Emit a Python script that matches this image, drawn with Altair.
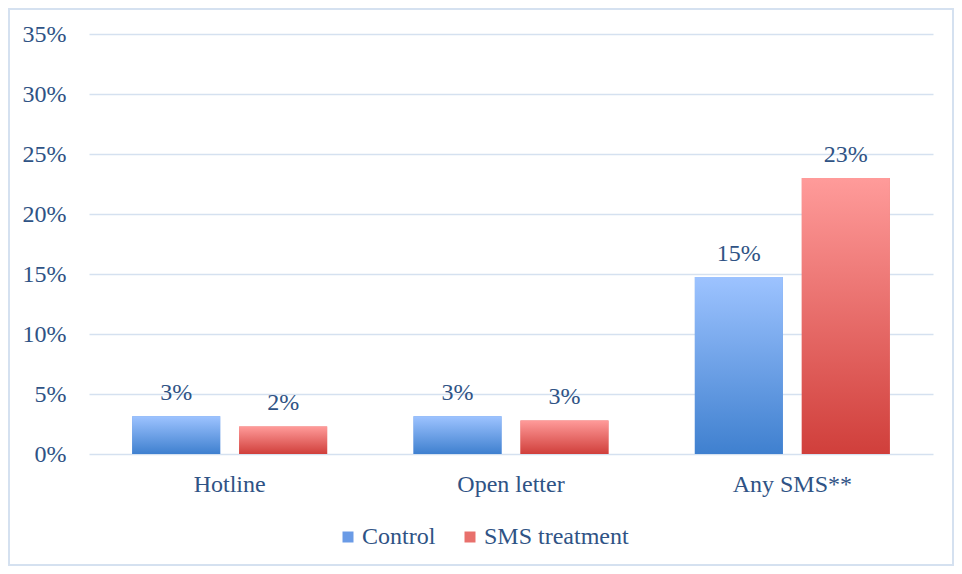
import altair as alt
import pandas as pd

categories = ["Hotline", "Open letter", "Any SMS**"]
series = ["Control", "SMS treatment"]
control = [0.0315, 0.0315, 0.1475]
sms = [0.0230, 0.0280, 0.2300]
y_ticks = [0, 0.05, 0.10, 0.15, 0.20, 0.25, 0.30, 0.35]

rows = []
for c, v in zip(categories, control):
    rows.append({"category": c, "series": "Control", "value": v})
for c, v in zip(categories, sms):
    rows.append({"category": c, "series": "SMS treatment", "value": v})
df = pd.DataFrame(rows)

FONT = "Liberation Serif"
FS = 24
TXT = "#2f5385"
GRID = "#d5e1f0"

blue_grad = alt.Gradient(
    gradient="linear", x1=0, x2=0, y1=0, y2=1,
    stops=[alt.GradientStop(color="#9dc3ff", offset=0),
           alt.GradientStop(color="#3f80cf", offset=1)],
)
red_grad = alt.Gradient(
    gradient="linear", x1=0, x2=0, y1=0, y2=1,
    stops=[alt.GradientStop(color="#ff9b9a", offset=0),
           alt.GradientStop(color="#d03f3b", offset=1)],
)

x_enc = alt.X(
    "category:N", sort=categories, title=None,
    scale=alt.Scale(paddingInner=0.307, paddingOuter=0.1535),
    axis=alt.Axis(labelAngle=0, ticks=False, domain=False, labelPadding=18,
                  labelFont=FONT, labelFontSize=FS, labelColor=TXT, grid=False),
)
xo_enc = alt.XOffset("series:N", sort=series,
                     scale=alt.Scale(paddingInner=0.177, paddingOuter=0))
y_enc = alt.Y(
    "value:Q", title=None,
    scale=alt.Scale(domain=[0, 0.35], nice=False),
    axis=alt.Axis(values=y_ticks, format=".0%", ticks=False, domain=False,
                  labelPadding=23, labelFont=FONT, labelFontSize=FS,
                  labelColor=TXT, grid=True, gridColor=GRID, gridWidth=1.5),
)

base = alt.Chart(df)

legend_layer = base.mark_bar().encode(
    x=x_enc, xOffset=xo_enc, y=y_enc,
    color=alt.Color(
        "series:N", sort=series, title=None,
        scale=alt.Scale(domain=series, range=["#6a9be6", "#e8706c"]),
        legend=alt.Legend(orient="none", legendX=247, legendY=491,
                          direction="horizontal", symbolType="square",
                          symbolSize=121, symbolStrokeWidth=0,
                          labelFont=FONT, labelFontSize=FS, labelColor=TXT,
                          columnPadding=22, symbolOffset=0, labelOffset=2),
    ),
)

ctrl_layer = base.transform_filter(alt.datum.series == "Control").mark_bar(
    color=blue_grad
).encode(x=x_enc, xOffset=xo_enc, y=y_enc)

sms_layer = base.transform_filter(alt.datum.series == "SMS treatment").mark_bar(
    color=red_grad
).encode(x=x_enc, xOffset=xo_enc, y=y_enc)

text_layer = base.mark_text(
    baseline="bottom", dy=-11, font=FONT, fontSize=FS, color=TXT
).encode(
    x=x_enc, xOffset=xo_enc, y=y_enc,
    text=alt.Text("value:Q", format=".0%"),
)

border = alt.Chart(pd.DataFrame({"k": [0]})).mark_rect(
    fill=None, stroke=GRID, strokeWidth=2
).encode(
    x=alt.value(-80), x2=alt.value(864), y=alt.value(-25), y2=alt.value(531)
)

chart = alt.layer(border, legend_layer, ctrl_layer, sms_layer, text_layer).properties(
    width=844, height=420,
    background="white",
    autosize=alt.AutoSizeParams(type="none"),
    padding={"left": 81, "top": 26, "right": 21, "bottom": 112},
).configure_view(strokeWidth=0, stroke=None)

chart.save("out.html", embed_options={"renderer": "svg", "actions": False})
